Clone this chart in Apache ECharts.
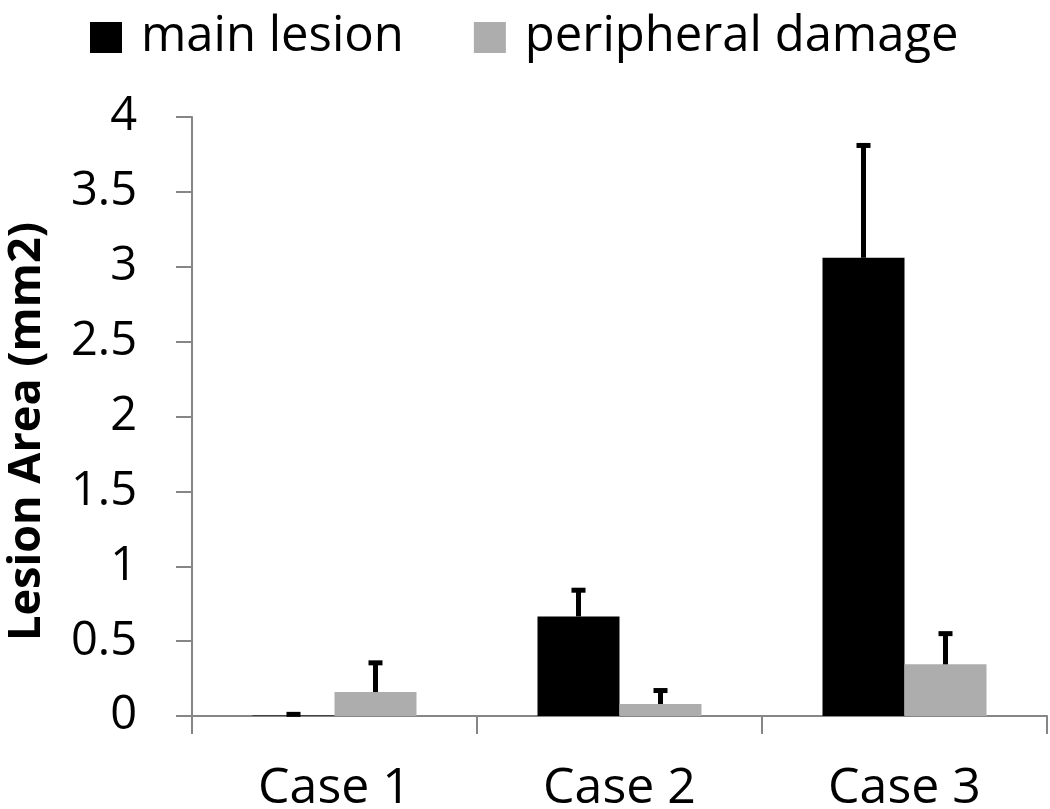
<!DOCTYPE html>
<html>
<head>
	<meta charset="UTF-8">
	<title>Lesion Area</title>
	<script src="https://cdn.jsdelivr.net/npm/echarts@6/dist/echarts.min.js"></script>
	<style>
		html, body { margin: 0; padding: 0; background: #fff; }
	</style>
</head>
<body>
	<div id="main" style="width: 1050px; height: 809px;"></div>
	<script>
		// data
		var cases = ['Case 1', 'Case 2', 'Case 3'];
		var mainLesion = [0.003, 0.665, 3.06];
		var mainLesionErr = [0.008, 0.175, 0.75];
		var peripheral = [0.16, 0.08, 0.345];
		var peripheralErr = [0.195, 0.09, 0.205];
		var seriesNames = ['main lesion', 'peripheral damage'];

		var FONT = '"Open Sans", "Liberation Sans", sans-serif';
		var BAR_W = 82;

		var myChart = echarts.init(document.getElementById('main'));

		// error bar, only drawn upward like in the original
		function errorBar(vals, errs, shift) {
			return function(params, api) {
				var i = api.value(0);
				var lo = api.coord([i, vals[i]]);
				var hi = api.coord([i, vals[i] + errs[i]]);
				var x = lo[0] + shift;
				return {
					type: 'group',
					children: [{
						type: 'line',
						shape: { x1: x, y1: lo[1], x2: x, y2: hi[1] },
						style: { stroke: '#000', lineWidth: 5 }
					}, {
						type: 'line',
						shape: { x1: x - 7, y1: hi[1], x2: x + 7, y2: hi[1] },
						style: { stroke: '#000', lineWidth: 5 }
					}]
				};
			};
		}

		var option = {
			backgroundColor: '#fff',
			animation: false,
			legend: {
				left: 85,
				top: 8,
				icon: 'rect',
				itemWidth: 32,
				itemHeight: 31,
				itemGap: 70,
				data: seriesNames,
				textStyle: {
					fontFamily: FONT,
					fontSize: 49,
					color: '#000',
					padding: [0, 0, 0, 14]
				}
			},
			grid: {
				left: 192,
				right: 3,
				top: 117,
				bottom: 93,
				containLabel: false,
				outerBoundsMode: 'none'
			},
			xAxis: {
				type: 'category',
				data: cases,
				axisLine: { lineStyle: { color: '#868686', width: 2 } },
				axisTick: { show: true, length: 18, lineStyle: { color: '#868686', width: 2 } },
				axisLabel: {
					fontFamily: FONT,
					fontSize: 50,
					color: '#000',
					margin: 48
				}
			},
			yAxis: {
				type: 'value',
				min: 0,
				max: 4,
				interval: 0.5,
				name: 'Lesion Area (mm2)',
				nameLocation: 'middle',
				nameGap: 142,
				nameTextStyle: {
					fontFamily: FONT,
					fontSize: 45,
					fontWeight: 'bold',
					color: '#000',
					padding: [0, 30, 0, 0]
				},
				axisLine: { show: true, lineStyle: { color: '#868686', width: 2 } },
				axisTick: { show: true, length: 16, lineStyle: { color: '#868686', width: 2 } },
				splitLine: { show: false },
				axisLabel: {
					fontFamily: FONT,
					fontSize: 47,
					color: '#000',
					margin: 55
				}
			},
			series: [{
				name: seriesNames[0],
				type: 'bar',
				data: mainLesion,
				barWidth: BAR_W,
				barGap: '0%',
				itemStyle: { color: '#000' }
			}, {
				name: seriesNames[1],
				type: 'bar',
				data: peripheral,
				barWidth: BAR_W,
				barGap: '0%',
				itemStyle: { color: '#adadad' }
			}, {
				type: 'custom',
				data: cases.map(function(c, i) { return [i]; }),
				renderItem: errorBar(mainLesion, mainLesionErr, -BAR_W / 2),
				z: 5
			}, {
				type: 'custom',
				data: cases.map(function(c, i) { return [i]; }),
				renderItem: errorBar(peripheral, peripheralErr, BAR_W / 2),
				z: 5
			}]
		};
		myChart.setOption(option);
	</script>
</body>
</html>
